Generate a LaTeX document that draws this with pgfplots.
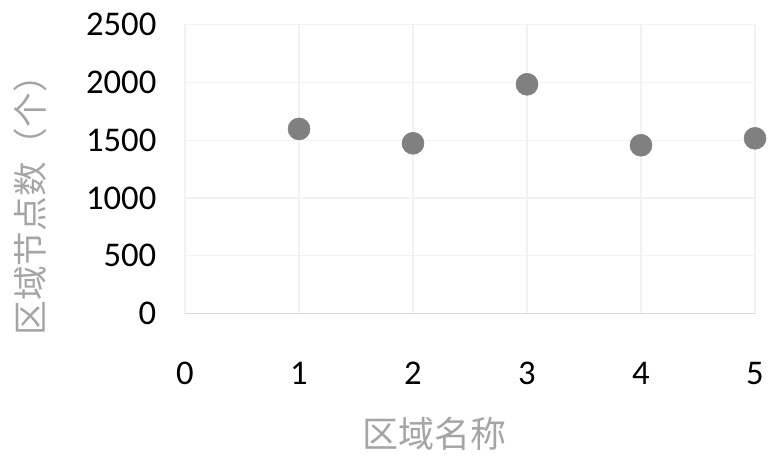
\documentclass[border=0pt]{standalone}
\usepackage{pgfplots}
\pgfplotsset{compat=1.18}
\usepackage{fontspec}
\setmainfont{Carlito}
\newfontfamily\cjk{Noto Sans CJK SC}
\definecolor{gridc}{RGB}{242,242,242}
\definecolor{axc}{RGB}{217,217,217}
\definecolor{ptc}{RGB}{128,128,128}
\definecolor{labc}{RGB}{165,165,165}
\begin{document}
\begin{tikzpicture}
\begin{axis}[
  scale only axis,
  width=427.5pt, height=216.9pt,
  xmin=0, xmax=5, ymin=0, ymax=2500,
  xtick={0,1,2,3,4,5},
  ytick={0,500,1000,1500,2000,2500},
  grid=major,
  major grid style={gridc, line width=0.9pt},
  axis line style={draw=none},
  axis x line*=bottom,
  axis y line*=left,
  major tick length=0pt,
  tick style={draw=none},
  /pgf/number format/assume math mode=true,
  /pgf/number format/1000 sep={},
  ticklabel style={font=\fontsize{26}{30}\selectfont, text=black},
  yticklabel style={xshift=-18pt},
  xticklabel style={yshift=-33pt},
  xlabel={区域名称},
  ylabel={区域节点数（个）},
  xlabel style={font=\cjk\fontsize{27}{30}\selectfont, text=labc, at={(axis description cs:0.4377,-0.416)}, anchor=center},
  ylabel style={font=\cjk\fontsize{26}{30}\selectfont, text=labc, at={(axis description cs:-0.272,0.4035)}, anchor=center, rotate=0},
  clip=false,
]
\addplot[only marks, mark=*, mark size=8.25pt, mark options={fill=ptc, draw=ptc}] coordinates {
  (1,1597) (2,1473) (3,1983) (4,1456) (5,1516)
};
\draw[axc, line width=1.2pt] (rel axis cs:0,0) -- (rel axis cs:1,0);
\pgfresetboundingbox
\path[use as bounding box] (rel axis cs:-0.3246,-0.478) rectangle (rel axis cs:1.0263,1.0847);
\end{axis}
\end{tikzpicture}
\end{document}
